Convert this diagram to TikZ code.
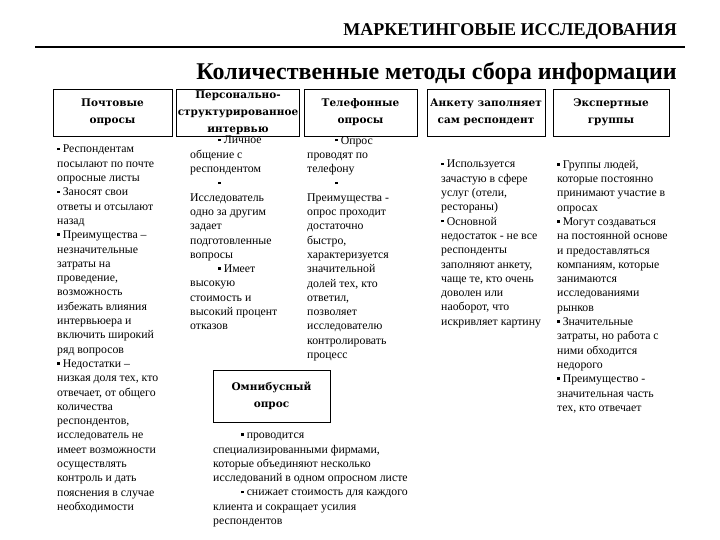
\documentclass[tikz,border=0pt]{standalone}
\usepackage{fontspec}
\setmainfont{Liberation Serif}
\newfontfamily\boxfont{DejaVu Serif}
\usepackage{tikz}
\usetikzlibrary{positioning}

\newcommand{\mkbul}{\rule[0.5ex]{2.6pt}{2.6pt}\ }
\newcommand{\indbul}{\hspace*{28pt}\mkbul}
\newcommand{\notefont}{\fontsize{11.8}{14.3}\selectfont}

\tikzset{
  methodbox/.style={draw,line width=0.9pt,inner sep=1pt,align=center,
    font=\boxfont\bfseries\fontsize{10.5}{17}\selectfont},
  notetext/.style={anchor=north west,align=left,inner sep=0pt,font=\notefont}
}

\begin{document}
\begin{tikzpicture}[x=1pt,y=-1pt]
  \useasboundingbox[fill=white] (0,0) rectangle (720,540);
  % header
  \node[anchor=base east,font=\bfseries\fontsize{18}{20}\selectfont,inner sep=0pt]
    (header) at (677,36) {МАРКЕТИНГОВЫЕ ИССЛЕДОВАНИЯ};
  \coordinate (ruleL) at (35,47);
  \coordinate (ruleR) at (685,47);
  \draw[line width=1.1pt] (ruleL) -- (ruleR);
  \node[anchor=base east,font=\bfseries\fontsize{24}{28}\selectfont,inner sep=0pt]
    (title) at (677,80) {Количественные методы сбора информации};

  % method boxes
  \node[methodbox,minimum width=119pt,minimum height=47pt] (mail) at (112.5,112.5)
    {Почтовые\\опросы};
  \node[methodbox,minimum width=120pt,minimum height=47pt] (personal) at (238,113)
    {Персонально-\\структурированное\\интервью};
  \node[methodbox,minimum width=113pt,minimum height=47pt] (phone) at (360.5,112.5)
    {Телефонные\\опросы};
  \node[methodbox,minimum width=118pt,minimum height=47pt] (self) at (486,112.5)
    {Анкету заполняет\\сам респондент};
  \node[methodbox,minimum width=116pt,minimum height=47pt] (expert) at (611,112.5)
    {Экспертные\\группы};
  \node[methodbox,minimum width=117pt,minimum height=52pt] (omni) at (271.5,396)
    {Омнибусный\\опрос};

  % notes
  \node[notetext] (mailnote) at (57,145) {%
    \mkbul Респондентам\\
    посылают по почте\\
    опросные листы\\
    \mkbul Заносят свои\\
    ответы и отсылают\\
    назад\\
    \mkbul Преимущества –\\
    незначительные\\
    затраты на\\
    проведение,\\
    возможность\\
    избежать влияния\\
    интервьюера и\\
    включить широкий\\
    ряд вопросов\\
    \mkbul Недостатки –\\
    низкая доля тех, кто\\
    отвечает, от общего\\
    количества\\
    респондентов,\\
    исследователь не\\
    имеет возможности\\
    осуществлять\\
    контроль и дать\\
    пояснения в случае\\
    необходимости};
  \node[notetext] (personalnote) at (190,136) {%
    \indbul Личное\\
    общение с\\
    респондентом\\
    \indbul\\
    Исследователь\\
    одно за другим\\
    задает\\
    подготовленные\\
    вопросы\\
    \indbul Имеет\\
    высокую\\
    стоимость и\\
    высокий процент\\
    отказов};
  \node[notetext] (phonenote) at (307,136) {%
    \indbul Опрос\\
    проводят по\\
    телефону\\
    \indbul\\
    Преимущества -\\
    опрос проходит\\
    достаточно\\
    быстро,\\
    характеризуется\\
    значительной\\
    долей тех, кто\\
    ответил,\\
    позволяет\\
    исследователю\\
    контролировать\\
    процесс};
  \node[notetext] (selfnote) at (441,160) {%
    \mkbul Используется\\
    зачастую в сфере\\
    услуг (отели,\\
    рестораны)\\
    \mkbul Основной\\
    недостаток - не все\\
    респонденты\\
    заполняют анкету,\\
    чаще те, кто очень\\
    доволен или\\
    наоборот, что\\
    искривляет картину};
  \node[notetext] (expertnote) at (557,160) {%
    \mkbul Группы людей,\\
    которые постоянно\\
    принимают участие в\\
    опросах\\
    \mkbul Могут создаваться\\
    на постоянной основе\\
    и предоставляться\\
    компаниям, которые\\
    занимаются\\
    исследованиями\\
    рынков\\
    \mkbul Значительные\\
    затраты, но работа с\\
    ними обходится\\
    недорого\\
    \mkbul Преимущество -\\
    значительная часть\\
    тех, кто отвечает};
  \node[notetext] (omninote) at (213,433) {%
    \indbul проводится\\
    специализированными фирмами,\\
    которые объединяют несколько\\
    исследований в одном опросном листе\\
    \indbul снижает стоимость для каждого\\
    клиента и сокращает усилия\\
    респондентов};
\end{tikzpicture}
\end{document}
